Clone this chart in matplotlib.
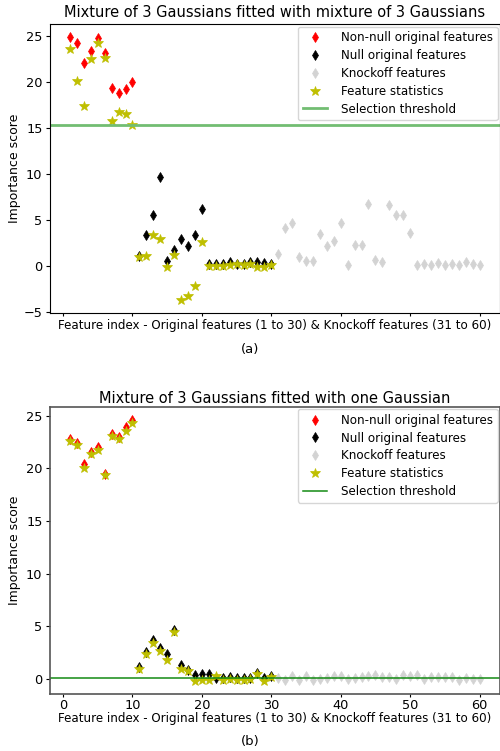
import numpy as np
import matplotlib
matplotlib.use("Agg")
import matplotlib.pyplot as plt

# panel (a): mixture of 3 gaussians fitted with mixture of 3 gaussians
a_nonnull = [24.86, 24.2, 22.1, 23.4, 24.8, 23.2, 19.3, 18.8, 19.2, 20.0]
a_null = [1.0, 3.37, 5.54, 9.7, 0.54, 1.67, 2.93, 2.17, 3.37, 6.16,
          0.15, 0.15, 0.15, 0.4, 0.2, 0.2, 0.4, 0.35, 0.25, 0.2]
a_knock = [1.27, 4.06, 4.7, 0.94, 0.47, 0.47, 3.48, 2.17, 2.64, 4.64,
           0.04, 2.2, 2.2, 6.74, 0.65, 0.36, 6.56, 5.54, 5.54, 3.55,
           0.1, 0.18, 0.1, 0.3, 0.04, 0.18, 0.04, 0.43, 0.18, 0.04]
a_stat = [23.55, 20.1, 17.4, 22.5, 24.3, 22.6, 15.8, 16.7, 16.5, 15.3,
          0.9, 1.1, 3.3, 2.93, -0.15, 1.2, -3.7, -3.33, -2.25, 2.57,
          0.0, 0.0, 0.0, 0.05, 0.2, 0.05, 0.15, -0.1, -0.1, 0.1]
a_thresh = 15.3

# panel (b): mixture of 3 gaussians fitted with one gaussian
b_nonnull = [22.76, 22.4, 20.36, 21.5, 22.0, 19.44, 23.26, 22.95, 23.9, 24.6]
b_null = [1.17, 2.6, 3.7, 2.97, 2.4, 4.7, 1.39, 0.9, 0.38, 0.47,
          0.47, 0.15, 0.15, 0.2, 0.15, 0.15, 0.1, 0.6, 0.1, 0.3]
b_knock = [0.13, -0.03, 0.28, -0.03, 0.28, -0.03, 0.06, 0.16, 0.28, 0.28,
           0.06, 0.16, 0.22, 0.28, 0.44, 0.22, 0.22, 0.06, 0.38, 0.32,
           0.38, 0.06, 0.22, 0.22, 0.22, 0.22, -0.03, 0.16, 0.06, 0.06]
b_stat = [22.55, 22.2, 20.0, 21.37, 21.7, 19.35, 23.04, 22.76, 23.5, 24.3,
          0.95, 2.43, 3.44, 2.65, 1.86, 4.48, 1.0, 0.76, -0.19, -0.1,
          -0.1, 0.28, -0.03, 0.06, -0.1, -0.03, 0.0, 0.54, -0.15, 0.2]
b_thresh = 0.07

titles = ["Mixture of 3 Gaussians fitted with mixture of 3 Gaussians",
          "Mixture of 3 Gaussians fitted with one Gaussian"]
xlabel = "Feature index - Original features (1 to 30) & Knockoff features (31 to 60)"

fig = plt.figure(figsize=(5, 7.51), dpi=100)
ax1 = fig.add_axes([0.099, 0.5836, 0.901, 0.384])
ax2 = fig.add_axes([0.099, 0.0755, 0.901, 0.383])

panels = [(ax1, a_nonnull, a_null, a_knock, a_stat, a_thresh, "#72bd72", 2.0),
          (ax2, b_nonnull, b_null, b_knock, b_stat, b_thresh, "#138a13", 1.1)]

for i, (ax, nn, nu, kn, st, th, lc, lw) in enumerate(panels):
    x_nn = np.arange(1, 11)
    x_nu = np.arange(11, 31)
    x_kn = np.arange(31, 61)
    x_st = np.arange(1, 31)
    ax.plot(x_nn, nn, "d", color="red", ms=5, mew=0.5, label="Non-null original features")
    ax.plot(x_nu, nu, "d", color="black", ms=5, mew=0.5, label="Null original features")
    ax.plot(x_kn, kn, "d", color="lightgray", ms=5, mew=0.5, label="Knockoff features")
    ax.plot(x_st, st, "*", color="y", ms=7.5, mew=0.5, label="Feature statistics")
    ax.axhline(th, color=lc, lw=lw, label="Selection threshold")
    ax.set_xticks([0, 10, 20, 30, 40, 50, 60])
    ax.set_yticks([-5, 0, 5, 10, 15, 20, 25] if i == 0 else [0, 5, 10, 15, 20, 25])
    ax.tick_params(labelsize=9.3, length=3, pad=2)
    ax.tick_params(axis="x", length=2.5, pad=1)
    ax.set_title(titles[i], fontsize=10.5, pad=5 if i == 0 else 2.5)
    ax.set_xlabel(xlabel, fontsize=8.6)
    ax.set_ylabel("Importance score", fontsize=9)
    ax.yaxis.set_label_coords(-0.064, 0.5)
    ax.legend(loc="upper right", fontsize=8.6, numpoints=1, borderaxespad=0.2,
              handletextpad=1.2, labelspacing=0.4)

# top panel: tick labels are hidden below the axis label in the original
ax1.tick_params(axis="x", labelbottom=False)
ax1.xaxis.set_label_coords(0.5, -0.043)
ax1.xaxis.label.set_va("center")
ax2.xaxis.set_label_coords(0.5, -0.084)
ax2.xaxis.label.set_va("center")
for s in ax2.spines.values():
    s.set_color("#555555")
    s.set_linewidth(1.2)

fig.text(0.5, 1 - 349 / 751, "(a)", ha="center", va="center", fontsize=9.5)
fig.text(0.5, 1 - 741 / 751, "(b)", ha="center", va="center", fontsize=9.5)

fig.savefig("out.png", dpi=100)
